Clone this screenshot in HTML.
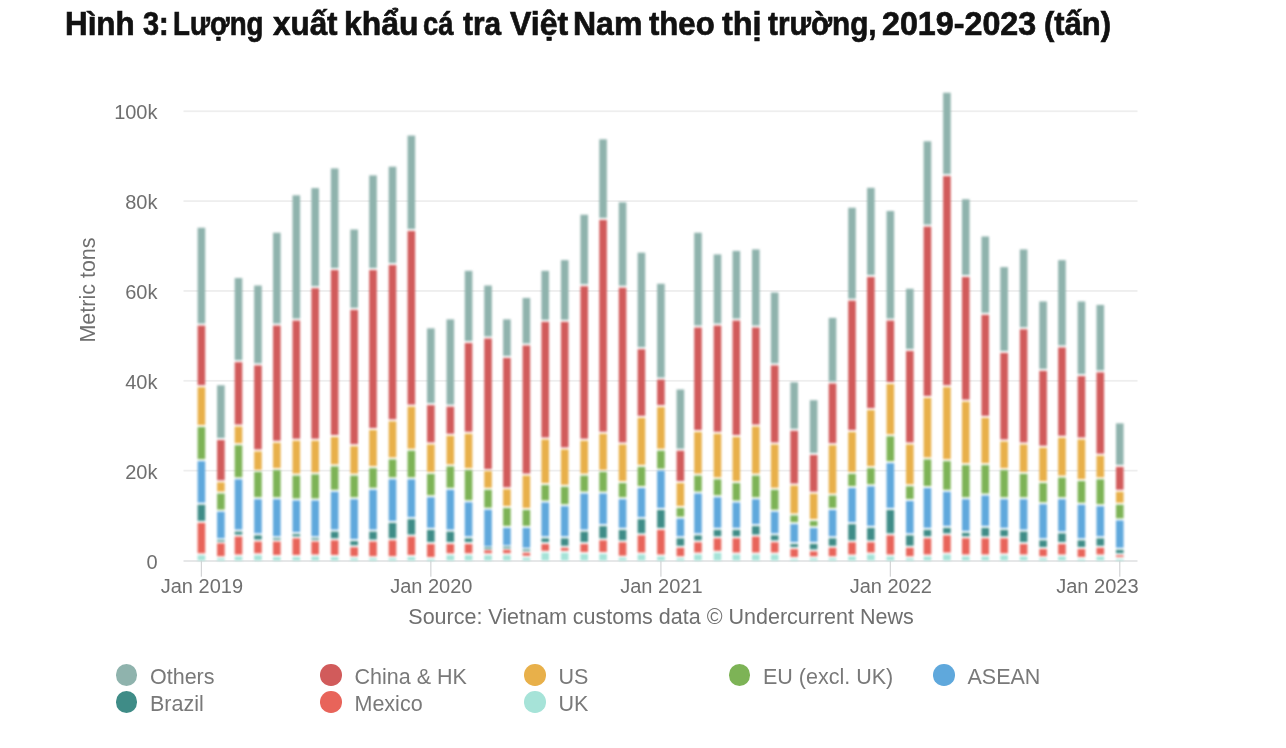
<!DOCTYPE html>
<html><head><meta charset="utf-8"><title>chart</title>
<style>
html,body{margin:0;padding:0;background:#fff;}
body{width:1286px;height:748px;position:relative;overflow:hidden;font-family:"Liberation Sans",sans-serif;}
.t{position:absolute;white-space:nowrap;color:#6f6f6f;line-height:1;filter:blur(0.35px);}
.title{position:absolute;left:67px;top:3.6px;font-size:33.5px;font-weight:bold;color:#111;-webkit-text-stroke:0.7px #111;white-space:nowrap;transform-origin:0 0;line-height:40px;filter:blur(0.3px);letter-spacing:0px;}
.yt{font-size:20px;text-align:right;width:60px;}
.xt{font-size:20px;text-align:center;width:120px;}
.lg{font-size:21.5px;color:#797979;}
.dot{filter:blur(0.4px);position:absolute;width:21.6px;height:21.6px;border-radius:50%;}
</style></head><body>

<svg width="1286" height="748" viewBox="0 0 1286 748" style="position:absolute;left:0;top:0">
<rect x="183.5" y="469.75" width="954" height="1.8" fill="#eeeeee"/><rect x="183.5" y="379.90" width="954" height="1.8" fill="#eeeeee"/><rect x="183.5" y="290.05" width="954" height="1.8" fill="#eeeeee"/><rect x="183.5" y="200.20" width="954" height="1.8" fill="#eeeeee"/><rect x="183.5" y="110.35" width="954" height="1.8" fill="#eeeeee"/><rect x="183.5" y="560.30" width="954" height="1.4" fill="#dcdddf"/>
<rect x="200.80" y="560.50" width="1.2" height="16.2" fill="#d3d4d6"/><rect x="430.24" y="560.50" width="1.2" height="16.2" fill="#d3d4d6"/><rect x="660.31" y="560.50" width="1.2" height="16.2" fill="#d3d4d6"/><rect x="889.75" y="560.50" width="1.2" height="16.2" fill="#d3d4d6"/><rect x="1119.18" y="560.50" width="1.2" height="16.2" fill="#d3d4d6"/>
<g style="filter:blur(0.8px)"><rect x="197.60" y="555.26" width="7.6" height="5.24" fill="#a6e3d8"/><rect x="197.60" y="522.90" width="7.6" height="30.36" fill="#e8645a"/><rect x="197.60" y="504.72" width="7.6" height="16.17" fill="#3f8c87"/><rect x="197.60" y="461.16" width="7.6" height="41.56" fill="#5fa8dc"/><rect x="197.60" y="427.05" width="7.6" height="32.11" fill="#7db356"/><rect x="197.60" y="387.22" width="7.6" height="37.83" fill="#e8b04a"/><rect x="197.60" y="325.56" width="7.6" height="59.67" fill="#d15b5b"/><rect x="197.60" y="227.77" width="7.6" height="95.79" fill="#8fb3ad"/><rect x="217.09" y="558.25" width="7.6" height="2.25" fill="#a6e3d8"/><rect x="217.09" y="543.31" width="7.6" height="12.94" fill="#e8645a"/><rect x="217.09" y="540.07" width="7.6" height="1.50" fill="#3f8c87"/><rect x="217.09" y="511.69" width="7.6" height="26.63" fill="#5fa8dc"/><rect x="217.09" y="493.52" width="7.6" height="16.17" fill="#7db356"/><rect x="217.09" y="482.32" width="7.6" height="9.20" fill="#e8b04a"/><rect x="217.09" y="440.00" width="7.6" height="40.32" fill="#d15b5b"/><rect x="217.09" y="385.28" width="7.6" height="52.72" fill="#8fb3ad"/><rect x="234.69" y="556.50" width="7.6" height="4.00" fill="#a6e3d8"/><rect x="234.69" y="536.59" width="7.6" height="17.92" fill="#e8645a"/><rect x="234.69" y="531.61" width="7.6" height="2.98" fill="#3f8c87"/><rect x="234.69" y="479.33" width="7.6" height="50.28" fill="#5fa8dc"/><rect x="234.69" y="445.23" width="7.6" height="32.11" fill="#7db356"/><rect x="234.69" y="426.56" width="7.6" height="16.67" fill="#e8b04a"/><rect x="234.69" y="362.15" width="7.6" height="62.41" fill="#d15b5b"/><rect x="234.69" y="278.05" width="7.6" height="82.10" fill="#8fb3ad"/><rect x="254.17" y="555.26" width="7.6" height="5.24" fill="#a6e3d8"/><rect x="254.17" y="541.57" width="7.6" height="11.69" fill="#e8645a"/><rect x="254.17" y="535.34" width="7.6" height="4.22" fill="#3f8c87"/><rect x="254.17" y="499.25" width="7.6" height="34.10" fill="#5fa8dc"/><rect x="254.17" y="471.86" width="7.6" height="25.38" fill="#7db356"/><rect x="254.17" y="451.45" width="7.6" height="18.41" fill="#e8b04a"/><rect x="254.17" y="365.39" width="7.6" height="84.06" fill="#d15b5b"/><rect x="254.17" y="285.52" width="7.6" height="77.86" fill="#8fb3ad"/><rect x="273.03" y="557.00" width="7.6" height="3.50" fill="#a6e3d8"/><rect x="273.03" y="541.57" width="7.6" height="13.43" fill="#e8645a"/><rect x="273.03" y="538.20" width="7.6" height="1.50" fill="#3f8c87"/><rect x="273.03" y="499.25" width="7.6" height="37.08" fill="#5fa8dc"/><rect x="273.03" y="470.12" width="7.6" height="27.13" fill="#7db356"/><rect x="273.03" y="442.74" width="7.6" height="25.38" fill="#e8b04a"/><rect x="273.03" y="325.56" width="7.6" height="115.18" fill="#d15b5b"/><rect x="273.03" y="232.75" width="7.6" height="90.81" fill="#8fb3ad"/><rect x="292.52" y="557.00" width="7.6" height="3.50" fill="#a6e3d8"/><rect x="292.52" y="538.33" width="7.6" height="16.67" fill="#e8645a"/><rect x="292.52" y="534.10" width="7.6" height="2.23" fill="#3f8c87"/><rect x="292.52" y="500.49" width="7.6" height="31.61" fill="#5fa8dc"/><rect x="292.52" y="475.60" width="7.6" height="22.89" fill="#7db356"/><rect x="292.52" y="440.75" width="7.6" height="32.85" fill="#e8b04a"/><rect x="292.52" y="320.58" width="7.6" height="118.17" fill="#d15b5b"/><rect x="292.52" y="195.31" width="7.6" height="123.27" fill="#8fb3ad"/><rect x="311.38" y="556.50" width="7.6" height="4.00" fill="#a6e3d8"/><rect x="311.38" y="541.57" width="7.6" height="12.94" fill="#e8645a"/><rect x="311.38" y="538.20" width="7.6" height="1.50" fill="#3f8c87"/><rect x="311.38" y="500.49" width="7.6" height="35.84" fill="#5fa8dc"/><rect x="311.38" y="474.35" width="7.6" height="24.14" fill="#7db356"/><rect x="311.38" y="440.75" width="7.6" height="31.61" fill="#e8b04a"/><rect x="311.38" y="288.21" width="7.6" height="150.53" fill="#d15b5b"/><rect x="311.38" y="188.09" width="7.6" height="98.12" fill="#8fb3ad"/><rect x="330.86" y="557.00" width="7.6" height="3.50" fill="#a6e3d8"/><rect x="330.86" y="540.32" width="7.6" height="14.68" fill="#e8645a"/><rect x="330.86" y="531.61" width="7.6" height="6.71" fill="#3f8c87"/><rect x="330.86" y="491.78" width="7.6" height="37.83" fill="#5fa8dc"/><rect x="330.86" y="466.39" width="7.6" height="23.39" fill="#7db356"/><rect x="330.86" y="437.01" width="7.6" height="27.38" fill="#e8b04a"/><rect x="330.86" y="270.04" width="7.6" height="164.97" fill="#d15b5b"/><rect x="330.86" y="168.43" width="7.6" height="99.62" fill="#8fb3ad"/><rect x="350.35" y="558.25" width="7.6" height="2.25" fill="#a6e3d8"/><rect x="350.35" y="547.29" width="7.6" height="8.95" fill="#e8645a"/><rect x="350.35" y="541.07" width="7.6" height="4.22" fill="#3f8c87"/><rect x="350.35" y="499.25" width="7.6" height="39.82" fill="#5fa8dc"/><rect x="350.35" y="475.60" width="7.6" height="21.65" fill="#7db356"/><rect x="350.35" y="446.22" width="7.6" height="27.38" fill="#e8b04a"/><rect x="350.35" y="309.87" width="7.6" height="134.35" fill="#d15b5b"/><rect x="350.35" y="229.51" width="7.6" height="78.36" fill="#8fb3ad"/><rect x="369.21" y="558.25" width="7.6" height="2.25" fill="#a6e3d8"/><rect x="369.21" y="541.57" width="7.6" height="14.68" fill="#e8645a"/><rect x="369.21" y="531.61" width="7.6" height="7.96" fill="#3f8c87"/><rect x="369.21" y="489.79" width="7.6" height="39.82" fill="#5fa8dc"/><rect x="369.21" y="468.13" width="7.6" height="19.66" fill="#7db356"/><rect x="369.21" y="430.04" width="7.6" height="36.09" fill="#e8b04a"/><rect x="369.21" y="270.04" width="7.6" height="158.00" fill="#d15b5b"/><rect x="369.21" y="175.40" width="7.6" height="92.65" fill="#8fb3ad"/><rect x="388.69" y="558.25" width="7.6" height="2.25" fill="#a6e3d8"/><rect x="388.69" y="540.32" width="7.6" height="15.92" fill="#e8645a"/><rect x="388.69" y="522.90" width="7.6" height="15.43" fill="#3f8c87"/><rect x="388.69" y="479.33" width="7.6" height="41.56" fill="#5fa8dc"/><rect x="388.69" y="459.42" width="7.6" height="17.92" fill="#7db356"/><rect x="388.69" y="421.33" width="7.6" height="36.09" fill="#e8b04a"/><rect x="388.69" y="265.06" width="7.6" height="154.27" fill="#d15b5b"/><rect x="388.69" y="166.68" width="7.6" height="96.38" fill="#8fb3ad"/><rect x="407.55" y="557.00" width="7.6" height="3.50" fill="#a6e3d8"/><rect x="407.55" y="536.59" width="7.6" height="18.41" fill="#e8645a"/><rect x="407.55" y="519.16" width="7.6" height="15.43" fill="#3f8c87"/><rect x="407.55" y="479.33" width="7.6" height="37.83" fill="#5fa8dc"/><rect x="407.55" y="450.70" width="7.6" height="26.63" fill="#7db356"/><rect x="407.55" y="406.64" width="7.6" height="42.06" fill="#e8b04a"/><rect x="407.55" y="230.96" width="7.6" height="173.68" fill="#d15b5b"/><rect x="407.55" y="135.57" width="7.6" height="93.39" fill="#8fb3ad"/><rect x="427.04" y="558.99" width="7.6" height="1.51" fill="#a6e3d8"/><rect x="427.04" y="544.06" width="7.6" height="12.94" fill="#e8645a"/><rect x="427.04" y="529.87" width="7.6" height="12.19" fill="#3f8c87"/><rect x="427.04" y="497.26" width="7.6" height="30.61" fill="#5fa8dc"/><rect x="427.04" y="473.86" width="7.6" height="21.40" fill="#7db356"/><rect x="427.04" y="444.48" width="7.6" height="27.38" fill="#e8b04a"/><rect x="427.04" y="405.15" width="7.6" height="37.33" fill="#d15b5b"/><rect x="427.04" y="328.34" width="7.6" height="74.81" fill="#8fb3ad"/><rect x="446.53" y="555.26" width="7.6" height="5.24" fill="#a6e3d8"/><rect x="446.53" y="544.06" width="7.6" height="9.20" fill="#e8645a"/><rect x="446.53" y="531.61" width="7.6" height="10.45" fill="#3f8c87"/><rect x="446.53" y="489.79" width="7.6" height="39.82" fill="#5fa8dc"/><rect x="446.53" y="466.39" width="7.6" height="21.40" fill="#7db356"/><rect x="446.53" y="435.77" width="7.6" height="28.62" fill="#e8b04a"/><rect x="446.53" y="406.64" width="7.6" height="27.13" fill="#d15b5b"/><rect x="446.53" y="319.38" width="7.6" height="85.26" fill="#8fb3ad"/><rect x="464.76" y="555.26" width="7.6" height="5.24" fill="#a6e3d8"/><rect x="464.76" y="544.06" width="7.6" height="9.20" fill="#e8645a"/><rect x="464.76" y="538.33" width="7.6" height="3.73" fill="#3f8c87"/><rect x="464.76" y="502.23" width="7.6" height="34.10" fill="#5fa8dc"/><rect x="464.76" y="470.12" width="7.6" height="30.11" fill="#7db356"/><rect x="464.76" y="433.78" width="7.6" height="34.35" fill="#e8b04a"/><rect x="464.76" y="342.98" width="7.6" height="88.79" fill="#d15b5b"/><rect x="464.76" y="270.84" width="7.6" height="70.15" fill="#8fb3ad"/><rect x="484.24" y="555.26" width="7.6" height="5.24" fill="#a6e3d8"/><rect x="484.24" y="550.28" width="7.6" height="2.98" fill="#e8645a"/><rect x="484.24" y="547.53" width="7.6" height="1.50" fill="#3f8c87"/><rect x="484.24" y="509.70" width="7.6" height="36.59" fill="#5fa8dc"/><rect x="484.24" y="489.79" width="7.6" height="17.92" fill="#7db356"/><rect x="484.24" y="471.12" width="7.6" height="16.67" fill="#e8b04a"/><rect x="484.24" y="338.50" width="7.6" height="130.62" fill="#d15b5b"/><rect x="484.24" y="285.52" width="7.6" height="50.98" fill="#8fb3ad"/><rect x="503.10" y="555.26" width="7.6" height="5.24" fill="#a6e3d8"/><rect x="503.10" y="549.78" width="7.6" height="3.48" fill="#e8645a"/><rect x="503.10" y="546.79" width="7.6" height="1.50" fill="#3f8c87"/><rect x="503.10" y="527.88" width="7.6" height="17.42" fill="#5fa8dc"/><rect x="503.10" y="507.96" width="7.6" height="17.92" fill="#7db356"/><rect x="503.10" y="489.29" width="7.6" height="16.67" fill="#e8b04a"/><rect x="503.10" y="357.92" width="7.6" height="129.37" fill="#d15b5b"/><rect x="503.10" y="319.38" width="7.6" height="36.54" fill="#8fb3ad"/><rect x="522.59" y="557.75" width="7.6" height="2.75" fill="#a6e3d8"/><rect x="522.59" y="552.77" width="7.6" height="2.98" fill="#e8645a"/><rect x="522.59" y="549.53" width="7.6" height="1.50" fill="#3f8c87"/><rect x="522.59" y="527.88" width="7.6" height="19.91" fill="#5fa8dc"/><rect x="522.59" y="509.95" width="7.6" height="15.92" fill="#7db356"/><rect x="522.59" y="475.60" width="7.6" height="32.35" fill="#e8b04a"/><rect x="522.59" y="345.47" width="7.6" height="128.13" fill="#d15b5b"/><rect x="522.59" y="297.97" width="7.6" height="45.50" fill="#8fb3ad"/><rect x="541.44" y="552.77" width="7.6" height="7.73" fill="#a6e3d8"/><rect x="541.44" y="544.06" width="7.6" height="6.71" fill="#e8645a"/><rect x="541.44" y="538.33" width="7.6" height="3.73" fill="#3f8c87"/><rect x="541.44" y="502.48" width="7.6" height="33.85" fill="#5fa8dc"/><rect x="541.44" y="485.06" width="7.6" height="15.43" fill="#7db356"/><rect x="541.44" y="439.50" width="7.6" height="43.56" fill="#e8b04a"/><rect x="541.44" y="321.82" width="7.6" height="115.68" fill="#d15b5b"/><rect x="541.44" y="270.84" width="7.6" height="48.99" fill="#8fb3ad"/><rect x="560.93" y="552.77" width="7.6" height="7.73" fill="#a6e3d8"/><rect x="560.93" y="547.79" width="7.6" height="2.98" fill="#e8645a"/><rect x="560.93" y="538.33" width="7.6" height="7.46" fill="#3f8c87"/><rect x="560.93" y="506.22" width="7.6" height="30.11" fill="#5fa8dc"/><rect x="560.93" y="486.80" width="7.6" height="17.42" fill="#7db356"/><rect x="560.93" y="449.46" width="7.6" height="35.34" fill="#e8b04a"/><rect x="560.93" y="321.82" width="7.6" height="125.64" fill="#d15b5b"/><rect x="560.93" y="260.13" width="7.6" height="59.69" fill="#8fb3ad"/><rect x="580.42" y="554.01" width="7.6" height="6.49" fill="#a6e3d8"/><rect x="580.42" y="544.06" width="7.6" height="7.96" fill="#e8645a"/><rect x="580.42" y="531.61" width="7.6" height="10.45" fill="#3f8c87"/><rect x="580.42" y="493.52" width="7.6" height="36.09" fill="#5fa8dc"/><rect x="580.42" y="475.60" width="7.6" height="15.92" fill="#7db356"/><rect x="580.42" y="440.75" width="7.6" height="32.85" fill="#e8b04a"/><rect x="580.42" y="286.22" width="7.6" height="152.52" fill="#d15b5b"/><rect x="580.42" y="214.73" width="7.6" height="69.49" fill="#8fb3ad"/><rect x="599.28" y="554.01" width="7.6" height="6.49" fill="#a6e3d8"/><rect x="599.28" y="540.32" width="7.6" height="11.69" fill="#e8645a"/><rect x="599.28" y="526.13" width="7.6" height="12.19" fill="#3f8c87"/><rect x="599.28" y="493.52" width="7.6" height="30.61" fill="#5fa8dc"/><rect x="599.28" y="471.86" width="7.6" height="19.66" fill="#7db356"/><rect x="599.28" y="433.78" width="7.6" height="36.09" fill="#e8b04a"/><rect x="599.28" y="219.91" width="7.6" height="211.87" fill="#d15b5b"/><rect x="599.28" y="139.30" width="7.6" height="78.61" fill="#8fb3ad"/><rect x="618.76" y="557.75" width="7.6" height="2.75" fill="#a6e3d8"/><rect x="618.76" y="542.31" width="7.6" height="13.43" fill="#e8645a"/><rect x="618.76" y="529.87" width="7.6" height="10.45" fill="#3f8c87"/><rect x="618.76" y="499.25" width="7.6" height="28.62" fill="#5fa8dc"/><rect x="618.76" y="483.07" width="7.6" height="14.18" fill="#7db356"/><rect x="618.76" y="444.48" width="7.6" height="36.59" fill="#e8b04a"/><rect x="618.76" y="287.72" width="7.6" height="154.76" fill="#d15b5b"/><rect x="618.76" y="202.28" width="7.6" height="83.43" fill="#8fb3ad"/><rect x="637.62" y="554.51" width="7.6" height="5.99" fill="#a6e3d8"/><rect x="637.62" y="535.34" width="7.6" height="17.17" fill="#e8645a"/><rect x="637.62" y="519.16" width="7.6" height="14.18" fill="#3f8c87"/><rect x="637.62" y="488.05" width="7.6" height="29.12" fill="#5fa8dc"/><rect x="637.62" y="466.88" width="7.6" height="19.16" fill="#7db356"/><rect x="637.62" y="417.84" width="7.6" height="47.04" fill="#e8b04a"/><rect x="637.62" y="349.21" width="7.6" height="66.64" fill="#d15b5b"/><rect x="637.62" y="252.66" width="7.6" height="94.54" fill="#8fb3ad"/><rect x="657.11" y="556.50" width="7.6" height="4.00" fill="#a6e3d8"/><rect x="657.11" y="529.87" width="7.6" height="24.64" fill="#e8645a"/><rect x="657.11" y="509.95" width="7.6" height="17.92" fill="#3f8c87"/><rect x="657.11" y="470.62" width="7.6" height="37.33" fill="#5fa8dc"/><rect x="657.11" y="450.70" width="7.6" height="17.92" fill="#7db356"/><rect x="657.11" y="407.14" width="7.6" height="41.56" fill="#e8b04a"/><rect x="657.11" y="379.58" width="7.6" height="25.56" fill="#d15b5b"/><rect x="657.11" y="283.78" width="7.6" height="93.80" fill="#8fb3ad"/><rect x="676.59" y="558.25" width="7.6" height="2.25" fill="#a6e3d8"/><rect x="676.59" y="547.79" width="7.6" height="8.46" fill="#e8645a"/><rect x="676.59" y="538.33" width="7.6" height="7.46" fill="#3f8c87"/><rect x="676.59" y="518.66" width="7.6" height="17.67" fill="#5fa8dc"/><rect x="676.59" y="507.96" width="7.6" height="8.70" fill="#7db356"/><rect x="676.59" y="483.07" width="7.6" height="22.89" fill="#e8b04a"/><rect x="676.59" y="450.70" width="7.6" height="30.36" fill="#d15b5b"/><rect x="676.59" y="389.51" width="7.6" height="59.19" fill="#8fb3ad"/><rect x="694.19" y="554.51" width="7.6" height="5.99" fill="#a6e3d8"/><rect x="694.19" y="542.31" width="7.6" height="10.20" fill="#e8645a"/><rect x="694.19" y="535.34" width="7.6" height="4.97" fill="#3f8c87"/><rect x="694.19" y="493.52" width="7.6" height="39.82" fill="#5fa8dc"/><rect x="694.19" y="475.60" width="7.6" height="15.92" fill="#7db356"/><rect x="694.19" y="432.03" width="7.6" height="41.56" fill="#e8b04a"/><rect x="694.19" y="327.55" width="7.6" height="102.49" fill="#d15b5b"/><rect x="694.19" y="232.75" width="7.6" height="92.80" fill="#8fb3ad"/><rect x="713.68" y="552.77" width="7.6" height="7.73" fill="#a6e3d8"/><rect x="713.68" y="538.33" width="7.6" height="12.44" fill="#e8645a"/><rect x="713.68" y="529.87" width="7.6" height="6.46" fill="#3f8c87"/><rect x="713.68" y="497.26" width="7.6" height="30.61" fill="#5fa8dc"/><rect x="713.68" y="479.33" width="7.6" height="15.92" fill="#7db356"/><rect x="713.68" y="433.78" width="7.6" height="43.56" fill="#e8b04a"/><rect x="713.68" y="325.56" width="7.6" height="106.22" fill="#d15b5b"/><rect x="713.68" y="254.41" width="7.6" height="69.15" fill="#8fb3ad"/><rect x="732.54" y="554.51" width="7.6" height="5.99" fill="#a6e3d8"/><rect x="732.54" y="538.33" width="7.6" height="14.18" fill="#e8645a"/><rect x="732.54" y="529.87" width="7.6" height="6.46" fill="#3f8c87"/><rect x="732.54" y="502.48" width="7.6" height="25.38" fill="#5fa8dc"/><rect x="732.54" y="483.07" width="7.6" height="17.42" fill="#7db356"/><rect x="732.54" y="437.01" width="7.6" height="44.05" fill="#e8b04a"/><rect x="732.54" y="320.58" width="7.6" height="114.44" fill="#d15b5b"/><rect x="732.54" y="250.92" width="7.6" height="67.66" fill="#8fb3ad"/><rect x="752.03" y="554.51" width="7.6" height="5.99" fill="#a6e3d8"/><rect x="752.03" y="536.59" width="7.6" height="15.92" fill="#e8645a"/><rect x="752.03" y="526.13" width="7.6" height="8.46" fill="#3f8c87"/><rect x="752.03" y="499.25" width="7.6" height="24.89" fill="#5fa8dc"/><rect x="752.03" y="475.60" width="7.6" height="21.65" fill="#7db356"/><rect x="752.03" y="426.56" width="7.6" height="47.04" fill="#e8b04a"/><rect x="752.03" y="327.55" width="7.6" height="97.01" fill="#d15b5b"/><rect x="752.03" y="249.43" width="7.6" height="76.12" fill="#8fb3ad"/><rect x="770.88" y="554.51" width="7.6" height="5.99" fill="#a6e3d8"/><rect x="770.88" y="542.31" width="7.6" height="10.20" fill="#e8645a"/><rect x="770.88" y="535.34" width="7.6" height="4.97" fill="#3f8c87"/><rect x="770.88" y="511.69" width="7.6" height="21.65" fill="#5fa8dc"/><rect x="770.88" y="489.79" width="7.6" height="19.91" fill="#7db356"/><rect x="770.88" y="444.48" width="7.6" height="43.31" fill="#e8b04a"/><rect x="770.88" y="365.39" width="7.6" height="77.09" fill="#d15b5b"/><rect x="770.88" y="292.49" width="7.6" height="70.89" fill="#8fb3ad"/><rect x="790.37" y="558.99" width="7.6" height="1.51" fill="#a6e3d8"/><rect x="790.37" y="549.04" width="7.6" height="7.96" fill="#e8645a"/><rect x="790.37" y="544.06" width="7.6" height="2.98" fill="#3f8c87"/><rect x="790.37" y="524.14" width="7.6" height="17.92" fill="#5fa8dc"/><rect x="790.37" y="515.43" width="7.6" height="6.71" fill="#7db356"/><rect x="790.37" y="485.56" width="7.6" height="27.87" fill="#e8b04a"/><rect x="790.37" y="430.79" width="7.6" height="52.77" fill="#d15b5b"/><rect x="790.37" y="382.29" width="7.6" height="46.50" fill="#8fb3ad"/><rect x="809.86" y="558.30" width="7.6" height="2.20" fill="#a6e3d8"/><rect x="809.86" y="551.40" width="7.6" height="4.90" fill="#e8645a"/><rect x="809.86" y="543.90" width="7.6" height="5.50" fill="#3f8c87"/><rect x="809.86" y="528.10" width="7.6" height="13.80" fill="#5fa8dc"/><rect x="809.86" y="521.00" width="7.6" height="5.10" fill="#7db356"/><rect x="809.86" y="493.70" width="7.6" height="25.30" fill="#e8b04a"/><rect x="809.86" y="455.00" width="7.6" height="36.70" fill="#d15b5b"/><rect x="809.86" y="400.20" width="7.6" height="52.80" fill="#8fb3ad"/><rect x="828.71" y="558.25" width="7.6" height="2.25" fill="#a6e3d8"/><rect x="828.71" y="547.79" width="7.6" height="8.46" fill="#e8645a"/><rect x="828.71" y="538.33" width="7.6" height="7.46" fill="#3f8c87"/><rect x="828.71" y="509.95" width="7.6" height="26.38" fill="#5fa8dc"/><rect x="828.71" y="495.51" width="7.6" height="12.44" fill="#7db356"/><rect x="828.71" y="445.23" width="7.6" height="48.29" fill="#e8b04a"/><rect x="828.71" y="383.49" width="7.6" height="59.74" fill="#d15b5b"/><rect x="828.71" y="317.89" width="7.6" height="63.60" fill="#8fb3ad"/><rect x="848.20" y="556.50" width="7.6" height="4.00" fill="#a6e3d8"/><rect x="848.20" y="542.31" width="7.6" height="12.19" fill="#e8645a"/><rect x="848.20" y="524.14" width="7.6" height="16.17" fill="#3f8c87"/><rect x="848.20" y="488.05" width="7.6" height="34.10" fill="#5fa8dc"/><rect x="848.20" y="473.86" width="7.6" height="12.19" fill="#7db356"/><rect x="848.20" y="432.03" width="7.6" height="39.82" fill="#e8b04a"/><rect x="848.20" y="300.66" width="7.6" height="129.37" fill="#d15b5b"/><rect x="848.20" y="207.76" width="7.6" height="90.90" fill="#8fb3ad"/><rect x="867.06" y="554.51" width="7.6" height="5.99" fill="#a6e3d8"/><rect x="867.06" y="542.31" width="7.6" height="10.20" fill="#e8645a"/><rect x="867.06" y="527.88" width="7.6" height="12.44" fill="#3f8c87"/><rect x="867.06" y="486.30" width="7.6" height="39.57" fill="#5fa8dc"/><rect x="867.06" y="468.13" width="7.6" height="16.17" fill="#7db356"/><rect x="867.06" y="410.13" width="7.6" height="56.00" fill="#e8b04a"/><rect x="867.06" y="277.01" width="7.6" height="131.11" fill="#d15b5b"/><rect x="867.06" y="187.84" width="7.6" height="87.17" fill="#8fb3ad"/><rect x="886.55" y="556.50" width="7.6" height="4.00" fill="#a6e3d8"/><rect x="886.55" y="535.34" width="7.6" height="19.16" fill="#e8645a"/><rect x="886.55" y="509.95" width="7.6" height="23.39" fill="#3f8c87"/><rect x="886.55" y="463.15" width="7.6" height="44.80" fill="#5fa8dc"/><rect x="886.55" y="436.27" width="7.6" height="24.89" fill="#7db356"/><rect x="886.55" y="383.99" width="7.6" height="50.28" fill="#e8b04a"/><rect x="886.55" y="320.58" width="7.6" height="61.41" fill="#d15b5b"/><rect x="886.55" y="210.99" width="7.6" height="107.58" fill="#8fb3ad"/><rect x="906.03" y="558.25" width="7.6" height="2.25" fill="#a6e3d8"/><rect x="906.03" y="547.79" width="7.6" height="8.46" fill="#e8645a"/><rect x="906.03" y="535.34" width="7.6" height="10.45" fill="#3f8c87"/><rect x="906.03" y="500.99" width="7.6" height="32.35" fill="#5fa8dc"/><rect x="906.03" y="486.30" width="7.6" height="12.69" fill="#7db356"/><rect x="906.03" y="444.48" width="7.6" height="39.82" fill="#e8b04a"/><rect x="906.03" y="350.95" width="7.6" height="91.53" fill="#d15b5b"/><rect x="906.03" y="288.76" width="7.6" height="60.19" fill="#8fb3ad"/><rect x="923.63" y="556.50" width="7.6" height="4.00" fill="#a6e3d8"/><rect x="923.63" y="538.33" width="7.6" height="16.17" fill="#e8645a"/><rect x="923.63" y="529.87" width="7.6" height="6.46" fill="#3f8c87"/><rect x="923.63" y="488.05" width="7.6" height="39.82" fill="#5fa8dc"/><rect x="923.63" y="459.42" width="7.6" height="26.63" fill="#7db356"/><rect x="923.63" y="397.93" width="7.6" height="59.49" fill="#e8b04a"/><rect x="923.63" y="226.63" width="7.6" height="169.30" fill="#d15b5b"/><rect x="923.63" y="141.29" width="7.6" height="83.34" fill="#8fb3ad"/><rect x="943.12" y="554.51" width="7.6" height="5.99" fill="#a6e3d8"/><rect x="943.12" y="535.34" width="7.6" height="17.17" fill="#e8645a"/><rect x="943.12" y="527.88" width="7.6" height="5.47" fill="#3f8c87"/><rect x="943.12" y="491.78" width="7.6" height="34.10" fill="#5fa8dc"/><rect x="943.12" y="461.16" width="7.6" height="28.62" fill="#7db356"/><rect x="943.12" y="387.22" width="7.6" height="71.94" fill="#e8b04a"/><rect x="943.12" y="176.10" width="7.6" height="209.13" fill="#d15b5b"/><rect x="943.12" y="92.75" width="7.6" height="81.35" fill="#8fb3ad"/><rect x="961.98" y="556.50" width="7.6" height="4.00" fill="#a6e3d8"/><rect x="961.98" y="538.33" width="7.6" height="16.17" fill="#e8645a"/><rect x="961.98" y="532.85" width="7.6" height="3.48" fill="#3f8c87"/><rect x="961.98" y="499.25" width="7.6" height="31.61" fill="#5fa8dc"/><rect x="961.98" y="465.14" width="7.6" height="32.11" fill="#7db356"/><rect x="961.98" y="401.66" width="7.6" height="61.48" fill="#e8b04a"/><rect x="961.98" y="277.01" width="7.6" height="122.65" fill="#d15b5b"/><rect x="961.98" y="199.29" width="7.6" height="75.72" fill="#8fb3ad"/><rect x="981.46" y="556.50" width="7.6" height="4.00" fill="#a6e3d8"/><rect x="981.46" y="538.33" width="7.6" height="16.17" fill="#e8645a"/><rect x="981.46" y="527.88" width="7.6" height="8.46" fill="#3f8c87"/><rect x="981.46" y="495.51" width="7.6" height="30.36" fill="#5fa8dc"/><rect x="981.46" y="465.14" width="7.6" height="28.37" fill="#7db356"/><rect x="981.46" y="417.84" width="7.6" height="45.30" fill="#e8b04a"/><rect x="981.46" y="314.85" width="7.6" height="100.99" fill="#d15b5b"/><rect x="981.46" y="236.48" width="7.6" height="76.37" fill="#8fb3ad"/><rect x="1000.32" y="555.26" width="7.6" height="5.24" fill="#a6e3d8"/><rect x="1000.32" y="538.33" width="7.6" height="14.93" fill="#e8645a"/><rect x="1000.32" y="529.87" width="7.6" height="6.46" fill="#3f8c87"/><rect x="1000.32" y="499.25" width="7.6" height="28.62" fill="#5fa8dc"/><rect x="1000.32" y="470.12" width="7.6" height="27.13" fill="#7db356"/><rect x="1000.32" y="441.49" width="7.6" height="26.63" fill="#e8b04a"/><rect x="1000.32" y="352.94" width="7.6" height="86.55" fill="#d15b5b"/><rect x="1000.32" y="267.10" width="7.6" height="83.84" fill="#8fb3ad"/><rect x="1019.81" y="556.50" width="7.6" height="4.00" fill="#a6e3d8"/><rect x="1019.81" y="544.06" width="7.6" height="10.45" fill="#e8645a"/><rect x="1019.81" y="531.61" width="7.6" height="10.45" fill="#3f8c87"/><rect x="1019.81" y="499.25" width="7.6" height="30.36" fill="#5fa8dc"/><rect x="1019.81" y="473.86" width="7.6" height="23.39" fill="#7db356"/><rect x="1019.81" y="444.48" width="7.6" height="27.38" fill="#e8b04a"/><rect x="1019.81" y="329.29" width="7.6" height="113.19" fill="#d15b5b"/><rect x="1019.81" y="249.43" width="7.6" height="77.86" fill="#8fb3ad"/><rect x="1039.30" y="558.25" width="7.6" height="2.25" fill="#a6e3d8"/><rect x="1039.30" y="549.04" width="7.6" height="7.21" fill="#e8645a"/><rect x="1039.30" y="540.32" width="7.6" height="6.71" fill="#3f8c87"/><rect x="1039.30" y="504.23" width="7.6" height="34.10" fill="#5fa8dc"/><rect x="1039.30" y="483.07" width="7.6" height="19.16" fill="#7db356"/><rect x="1039.30" y="447.72" width="7.6" height="33.35" fill="#e8b04a"/><rect x="1039.30" y="370.86" width="7.6" height="74.85" fill="#d15b5b"/><rect x="1039.30" y="301.46" width="7.6" height="67.41" fill="#8fb3ad"/><rect x="1058.15" y="556.50" width="7.6" height="4.00" fill="#a6e3d8"/><rect x="1058.15" y="544.06" width="7.6" height="10.45" fill="#e8645a"/><rect x="1058.15" y="533.35" width="7.6" height="8.70" fill="#3f8c87"/><rect x="1058.15" y="499.25" width="7.6" height="32.11" fill="#5fa8dc"/><rect x="1058.15" y="477.59" width="7.6" height="19.66" fill="#7db356"/><rect x="1058.15" y="437.76" width="7.6" height="37.83" fill="#e8b04a"/><rect x="1058.15" y="347.46" width="7.6" height="88.30" fill="#d15b5b"/><rect x="1058.15" y="260.13" width="7.6" height="85.33" fill="#8fb3ad"/><rect x="1077.64" y="558.99" width="7.6" height="1.51" fill="#a6e3d8"/><rect x="1077.64" y="549.04" width="7.6" height="7.96" fill="#e8645a"/><rect x="1077.64" y="540.32" width="7.6" height="6.71" fill="#3f8c87"/><rect x="1077.64" y="504.72" width="7.6" height="33.60" fill="#5fa8dc"/><rect x="1077.64" y="481.07" width="7.6" height="21.65" fill="#7db356"/><rect x="1077.64" y="439.50" width="7.6" height="39.57" fill="#e8b04a"/><rect x="1077.64" y="376.09" width="7.6" height="61.41" fill="#d15b5b"/><rect x="1077.64" y="301.46" width="7.6" height="72.64" fill="#8fb3ad"/><rect x="1096.50" y="556.50" width="7.6" height="4.00" fill="#a6e3d8"/><rect x="1096.50" y="547.79" width="7.6" height="6.71" fill="#e8645a"/><rect x="1096.50" y="538.33" width="7.6" height="7.46" fill="#3f8c87"/><rect x="1096.50" y="506.22" width="7.6" height="30.11" fill="#5fa8dc"/><rect x="1096.50" y="479.33" width="7.6" height="24.89" fill="#7db356"/><rect x="1096.50" y="455.68" width="7.6" height="21.65" fill="#e8b04a"/><rect x="1096.50" y="372.36" width="7.6" height="81.33" fill="#d15b5b"/><rect x="1096.50" y="304.94" width="7.6" height="65.42" fill="#8fb3ad"/><rect x="1115.98" y="558.99" width="7.6" height="1.51" fill="#a6e3d8"/><rect x="1115.98" y="555.26" width="7.6" height="1.73" fill="#e8645a"/><rect x="1115.98" y="549.78" width="7.6" height="3.48" fill="#3f8c87"/><rect x="1115.98" y="520.41" width="7.6" height="27.38" fill="#5fa8dc"/><rect x="1115.98" y="504.72" width="7.6" height="13.68" fill="#7db356"/><rect x="1115.98" y="491.78" width="7.6" height="10.94" fill="#e8b04a"/><rect x="1115.98" y="466.88" width="7.6" height="22.89" fill="#d15b5b"/><rect x="1115.98" y="423.37" width="7.6" height="41.52" fill="#8fb3ad"/></g>
</svg>
<div class="title" style="left:65.13px;transform:scaleX(0.9357)">Hình</div>
<div class="title" style="left:143.0px;transform:scaleX(0.8637)">3:</div>
<div class="title" style="left:173.35px;transform:scaleX(0.8264)">Lượng</div>
<div class="title" style="left:272.6px;transform:scaleX(0.9371)">xuất</div>
<div class="title" style="left:343.8px;transform:scaleX(0.9515)">khẩu</div>
<div class="title" style="left:423.48px;transform:scaleX(0.8162)">cá</div>
<div class="title" style="left:463.1px;transform:scaleX(0.889)">tra</div>
<div class="title" style="left:509.8px;transform:scaleX(0.9559)">Việt</div>
<div class="title" style="left:573.09px;transform:scaleX(0.9546)">Nam</div>
<div class="title" style="left:649.0px;transform:scaleX(0.9281)">theo</div>
<div class="title" style="left:722.4px;transform:scaleX(0.9684)">thị</div>
<div class="title" style="left:767.6px;transform:scaleX(0.8862)">trường,</div>
<div class="title" style="left:881.84px;transform:scaleX(0.9623)">2019-2023</div>
<div class="title" style="left:1044.48px;transform:scaleX(0.9232)">(tấn)</div>
<div class="t yt" style="left:97.5px;top:551.5px">0</div>
<div class="t yt" style="left:97.5px;top:461.6px">20k</div>
<div class="t yt" style="left:97.5px;top:371.8px">40k</div>
<div class="t yt" style="left:97.5px;top:282.0px">60k</div>
<div class="t yt" style="left:97.5px;top:192.1px">80k</div>
<div class="t yt" style="left:97.5px;top:102.2px">100k</div>
<div class="t xt" style="left:141.9px;top:576.2px">Jan 2019</div>
<div class="t xt" style="left:371.3px;top:576.2px">Jan 2020</div>
<div class="t xt" style="left:601.4px;top:576.2px">Jan 2021</div>
<div class="t xt" style="left:830.8px;top:576.2px">Jan 2022</div>
<div class="t xt" style="left:1018.5px;top:576.2px;text-align:right">Jan 2023</div>
<div class="t" style="font-size:21.5px;left:408.3px;top:607px">Source: Vietnam customs data © Undercurrent News</div>
<div class="t" style="font-size:21.5px;left:88.7px;top:290px;width:0;height:0;"><div style="position:absolute;left:0;top:0;transform:translate(-50%,-50%) rotate(-90deg);white-space:nowrap">Metric tons</div></div>
<div class="dot" style="left:115.7px;top:664.0px;background:#8fb3ad"></div>
<div class="t lg" style="left:150.0px;top:666.8px">Others</div>
<div class="dot" style="left:115.7px;top:691.0px;background:#3f8c87"></div>
<div class="t lg" style="left:150.0px;top:693.8px">Brazil</div>
<div class="dot" style="left:320.2px;top:664.0px;background:#d15b5b"></div>
<div class="t lg" style="left:354.5px;top:666.8px">China &amp; HK</div>
<div class="dot" style="left:320.2px;top:691.0px;background:#e8645a"></div>
<div class="t lg" style="left:354.5px;top:693.8px">Mexico</div>
<div class="dot" style="left:524.2px;top:664.0px;background:#e8b04a"></div>
<div class="t lg" style="left:558.5px;top:666.8px">US</div>
<div class="dot" style="left:524.2px;top:691.0px;background:#a6e3d8"></div>
<div class="t lg" style="left:558.5px;top:693.8px">UK</div>
<div class="dot" style="left:728.7px;top:664.0px;background:#7db356"></div>
<div class="t lg" style="left:763.0px;top:666.8px">EU (excl. UK)</div>
<div class="dot" style="left:933.2px;top:664.0px;background:#5fa8dc"></div>
<div class="t lg" style="left:967.5px;top:666.8px">ASEAN</div>
</body></html>
